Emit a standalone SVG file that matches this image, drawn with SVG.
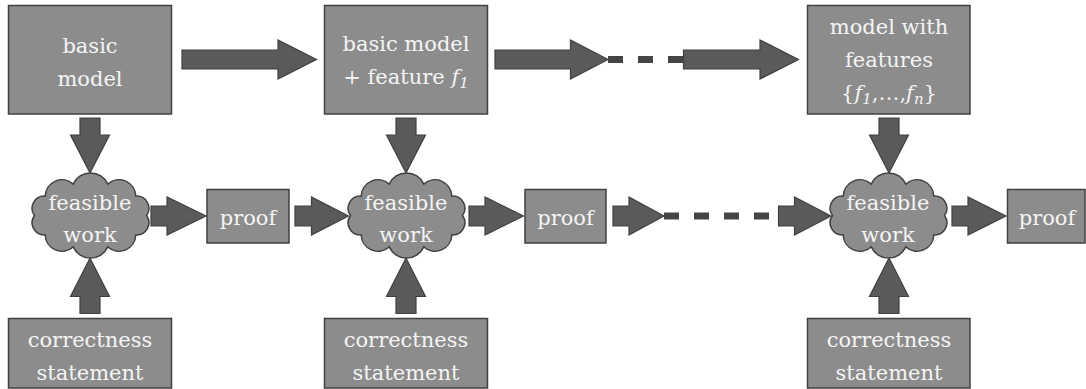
<svg xmlns="http://www.w3.org/2000/svg" xmlns:xlink="http://www.w3.org/1999/xlink" width="1086" height="389" viewBox="0 0 1086 389">
  <style>
    .box { fill: #8c8c8c; stroke: #404040; stroke-width: 1.5; }
    .arr { fill: #5a5a5a; stroke: #404040; stroke-width: 1.2; stroke-linejoin: miter; }
    .dash { stroke: #454545; stroke-width: 7; stroke-dasharray: 15 15; fill: none; }
    .lbl { font-family: "DejaVu Serif", "Liberation Serif", serif; font-size: 21px; fill: #f4f4f4; text-anchor: middle; }
    .it { font-style: italic; }
  </style>
  <defs>
    <!-- ten-puff cloud centred on the origin -->
    <path id="cloud" class="box" d="M56,0 A12.2,12.2 0 0 1 45.3,19.4 A16.8,16.8 0 0 1 17.3,31.4 A19,19 0 0 1 -17.3,31.4 A16.8,16.8 0 0 1 -45.3,19.4 A12.2,12.2 0 0 1 -56,0 A12.2,12.2 0 0 1 -45.3,-19.4 A16.8,16.8 0 0 1 -17.3,-31.4 A19,19 0 0 1 17.3,-31.4 A16.8,16.8 0 0 1 45.3,-19.4 A12.2,12.2 0 0 1 56,0 Z"/>
  </defs>
  <rect width="1086" height="389" fill="#ffffff"/>

  <!-- connectors -->
  <g id="connectors">
    <!-- top row -->
    <polygon class="arr" points="182,50 278,50 278,40 316.5,59.5 278,79 278,69 182,69"/>
    <polygon class="arr" points="495,50 570.5,50 570.5,40 608,59.5 570.5,79 570.5,69 495,69"/>
    <line class="dash" x1="608" y1="59.5" x2="683" y2="59.5"/>
    <polygon class="arr" points="683.5,50 760,50 760,40 798.5,59.5 760,79 760,69 683.5,69"/>
    <!-- models down to feasible work -->
    <polygon class="arr" points="80,118 100,118 100,135 109.5,135 90,173 70.5,135 80,135"/>
    <polygon class="arr" points="396,118 416,118 416,135 425.5,135 406,173 386.5,135 396,135"/>
    <polygon class="arr" points="879,118 899,118 899,135 908.5,135 889,173 869.5,135 879,135"/>
    <!-- correctness statements up to feasible work -->
    <polygon class="arr" points="80,313.5 80,296.5 70.5,296.5 90,258 109.5,296.5 100,296.5 100,313.5"/>
    <polygon class="arr" points="396,313.5 396,296.5 386.5,296.5 406,258 425.5,296.5 416,296.5 416,313.5"/>
    <polygon class="arr" points="879,313.5 879,296.5 869.5,296.5 889,258 908.5,296.5 899,296.5 899,313.5"/>
    <!-- bottom row -->
    <polygon class="arr" points="151,206 167,206 167,197 206,216 167,235 167,226 151,226"/>
    <polygon class="arr" points="295,206 311.5,206 311.5,197 348.5,216 311.5,235 311.5,226 295,226"/>
    <polygon class="arr" points="469,206 485,206 485,197 523.5,216 485,235 485,226 469,226"/>
    <polygon class="arr" points="613,206 629,206 629,197 664,216 629,235 629,226 613,226"/>
    <line class="dash" x1="664" y1="216" x2="769" y2="216"/>
    <polygon class="arr" points="778.5,206 794.5,206 794.5,197 831,216 794.5,235 794.5,226 778.5,226"/>
    <polygon class="arr" points="952,206 968,206 968,197 1006,216 968,235 968,226 952,226"/>
  </g>

  <g font-family="DejaVu Serif, Liberation Serif, serif">
  <!-- models -->
  <g id="basic-model">
    <rect class="box" x="8.5" y="5.5" width="163" height="108.5"/>
    <text class="lbl" x="90" y="53">basic</text>
    <text class="lbl" x="90" y="86">model</text>
  </g>
  <g id="model-f1">
    <rect class="box" x="324.5" y="5.5" width="163" height="108.5"/>
    <text class="lbl" x="406" y="50.5">basic model</text>
    <text class="lbl" x="406" y="83.5">+ feature <tspan class="it">f</tspan><tspan class="it" font-size="15" dy="4">1</tspan></text>
  </g>
  <g id="model-fn">
    <rect class="box" x="807.5" y="5.5" width="162.5" height="108.5"/>
    <text class="lbl" x="889" y="34">model with</text>
    <text class="lbl" x="889" y="67">features</text>
    <text class="lbl" x="889" y="100">{<tspan class="it">f</tspan><tspan class="it" font-size="15" dy="4">1</tspan><tspan dy="-4">,…,</tspan><tspan class="it">f</tspan><tspan class="it" font-size="15" dy="4">n</tspan><tspan dy="-4">}</tspan></text>
  </g>

  <!-- feasible work clouds -->
  <g id="work-1">
    <use xlink:href="#cloud" transform="translate(90.5,215.5)"/>
    <text class="lbl" x="90" y="209.5">feasible</text>
    <text class="lbl" x="90" y="241.5">work</text>
  </g>
  <g id="work-2">
    <use xlink:href="#cloud" transform="translate(406.5,215.5)"/>
    <text class="lbl" x="406" y="209.5">feasible</text>
    <text class="lbl" x="406" y="241.5">work</text>
  </g>
  <g id="work-3">
    <use xlink:href="#cloud" transform="translate(888.5,215.5)"/>
    <text class="lbl" x="888" y="209.5">feasible</text>
    <text class="lbl" x="888" y="241.5">work</text>
  </g>

  <!-- proofs -->
  <g id="proof-1">
    <rect class="box" x="207" y="189.5" width="82" height="53.5"/>
    <text class="lbl" x="248" y="225">proof</text>
  </g>
  <g id="proof-2">
    <rect class="box" x="525" y="189.5" width="81" height="53.5"/>
    <text class="lbl" x="565.5" y="225">proof</text>
  </g>
  <g id="proof-3">
    <rect class="box" x="1007.5" y="189.5" width="77.5" height="53.5"/>
    <text class="lbl" x="1047" y="225">proof</text>
  </g>

  <!-- correctness statements -->
  <g id="stmt-1">
    <rect class="box" x="8.5" y="318.5" width="163" height="69.5"/>
    <text class="lbl" x="90" y="346.5">correctness</text>
    <text class="lbl" x="90" y="380">statement</text>
  </g>
  <g id="stmt-2">
    <rect class="box" x="324.5" y="318.5" width="163" height="69.5"/>
    <text class="lbl" x="406" y="346.5">correctness</text>
    <text class="lbl" x="406" y="380">statement</text>
  </g>
  <g id="stmt-3">
    <rect class="box" x="807.5" y="318.5" width="162.5" height="69.5"/>
    <text class="lbl" x="889" y="346.5">correctness</text>
    <text class="lbl" x="889" y="380">statement</text>
  </g>
  </g>
</svg>
